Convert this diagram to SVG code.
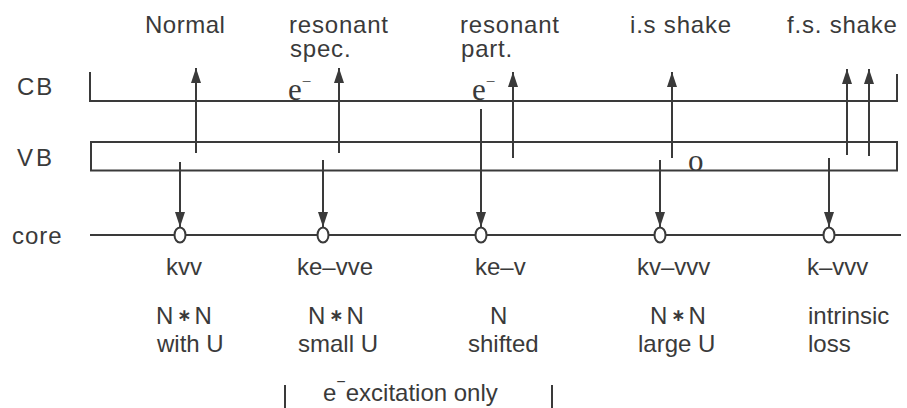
<svg xmlns="http://www.w3.org/2000/svg" width="907" height="408" viewBox="0 0 907 408">
<style>
.t{font-family:"Liberation Sans",Arial,sans-serif;font-size:24px;fill:#3a3a3a}
.s{font-family:"Liberation Serif","Times New Roman",serif;font-size:31px;fill:#3a3a3a}
.ln{stroke:#3a3a3a;stroke-width:2;fill:none}
.ar{stroke:#3a3a3a;stroke-width:2;fill:none;marker-end:url(#ah)}
.hole{fill:#fff;stroke:#3a3a3a;stroke-width:2}
.st{font-family:"DejaVu Sans",sans-serif;font-weight:bold;font-size:17px}
</style>
<defs>
<marker id="ah" viewBox="0 0 15 10" refX="15" refY="5" markerWidth="15" markerHeight="10" markerUnits="userSpaceOnUse" orient="auto"><path d="M0,0 L15,5 L0,10 z" fill="#3a3a3a"/></marker>
</defs>
<rect width="907" height="408" fill="#fff"/>
<g id="bands">
<path class="ln" d="M90,72 V101 H897 V74"/>
<rect class="ln" x="91" y="142" width="806" height="28.5"/>
<line class="ln" x1="90" y1="235" x2="901" y2="235" stroke-width="2.5"/>
<text class="t" x="17" y="95" letter-spacing="2">CB</text>
<text class="t" x="17" y="166" letter-spacing="3">VB</text>
<text class="t" x="12" y="244" letter-spacing="1">core</text>
</g>
<g id="connectors">
<line class="ar" x1="196" y1="153" x2="196" y2="68"/>
<line class="ar" x1="339" y1="153" x2="339" y2="68"/>
<line class="ar" x1="513" y1="158" x2="513" y2="72"/>
<line class="ar" x1="672" y1="158" x2="672" y2="72"/>
<line class="ar" x1="847" y1="155" x2="847" y2="69"/>
<line class="ar" x1="869" y1="156" x2="869" y2="69"/>
<line class="ar" x1="180" y1="162" x2="180" y2="227"/>
<line class="ar" x1="323" y1="160" x2="323" y2="227"/>
<line class="ar" x1="481" y1="109" x2="481" y2="227"/>
<line class="ar" x1="660" y1="160" x2="660" y2="227"/>
<line class="ar" x1="829" y1="158" x2="829" y2="227"/>
</g>
<g id="normal">
<text class="t" x="145" y="33" letter-spacing="0.5">Normal</text>
<ellipse class="hole" cx="180" cy="235" rx="5.5" ry="7.5"/>
<text class="t" x="166" y="275">kvv</text>
<text class="t" x="156" y="324">N<tspan class="st" dx="4" dy="-3">∗</tspan><tspan dx="3" dy="3">N</tspan></text>
<text class="t" x="157" y="352">with U</text>
</g>
<g id="resonant-spec">
<text class="t" x="289" y="33" letter-spacing="0.8">resonant</text>
<text class="t" x="290" y="57" letter-spacing="0.8">spec.</text>
<text class="s" x="288" y="100">e<tspan font-size="17" dy="-13">−</tspan></text>
<ellipse class="hole" cx="323" cy="235" rx="5.5" ry="7.5"/>
<text class="t" x="297" y="275">ke–vve</text>
<text class="t" x="308" y="324">N<tspan class="st" dx="4" dy="-3">∗</tspan><tspan dx="3" dy="3">N</tspan></text>
<text class="t" x="298" y="352">small U</text>
</g>
<g id="resonant-part">
<text class="t" x="460" y="33" letter-spacing="0.8">resonant</text>
<text class="t" x="461" y="57" letter-spacing="0.8">part.</text>
<text class="s" x="472" y="100">e<tspan font-size="17" dy="-13">−</tspan></text>
<ellipse class="hole" cx="481" cy="235" rx="5.5" ry="7.5"/>
<text class="t" x="475" y="275">ke–v</text>
<text class="t" x="490" y="324">N</text>
<text class="t" x="468" y="352">shifted</text>
</g>
<g id="is-shake">
<text class="t" x="630" y="33" letter-spacing="0.8">i.s shake</text>
<text class="s" x="688" y="171">o</text>
<ellipse class="hole" cx="660" cy="235" rx="5.5" ry="7.5"/>
<text class="t" x="637" y="275">kv–vvv</text>
<text class="t" x="650" y="324">N<tspan class="st" dx="4" dy="-3">∗</tspan><tspan dx="3" dy="3">N</tspan></text>
<text class="t" x="638" y="352">large U</text>
</g>
<g id="fs-shake">
<text class="t" x="787" y="33" letter-spacing="0.8">f.s. shake</text>
<ellipse class="hole" cx="829" cy="235" rx="5.5" ry="7.5"/>
<text class="t" x="807" y="275">k–vvv</text>
<text class="t" x="808" y="324">intrinsic</text>
<text class="t" x="808" y="352">loss</text>
</g>
<g id="excitation">
<line class="ln" x1="285" y1="385" x2="285" y2="408"/>
<line class="ln" x1="552" y1="385" x2="552" y2="408"/>
<text class="t" x="323" y="401" font-size="26">e<tspan font-size="16" dy="-14">−</tspan><tspan dy="14">excitation only</tspan></text>
</g>
</svg>
